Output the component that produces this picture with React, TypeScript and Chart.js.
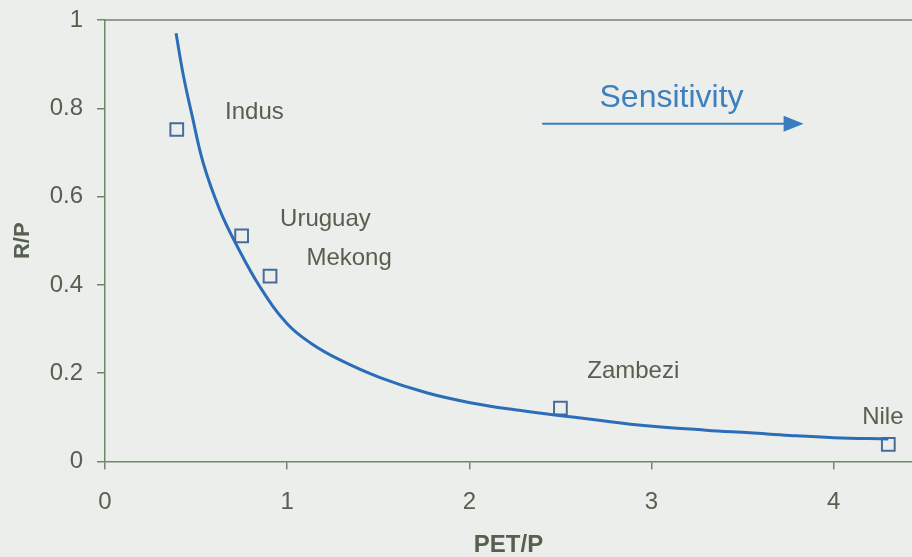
import React, { useEffect, useRef } from "react";
import { Chart, registerables } from "chart.js";

Chart.register(...registerables);

// Fitted curve R/P vs PET/P
const curveX = [0.39, 0.43, 0.48, 0.54, 0.63, 0.72, 0.85, 1.0, 1.13, 1.29, 1.51, 1.77, 2.02, 2.25, 2.48, 2.7, 2.9, 3.3, 3.54, 3.76, 4.0, 4.3];
const curveY = [0.97, 0.875, 0.78, 0.675, 0.57, 0.492, 0.396, 0.312, 0.268, 0.23, 0.19, 0.155, 0.132, 0.117, 0.105, 0.094, 0.084, 0.071, 0.065, 0.059, 0.054, 0.051];

// Basins
const basins = ["Indus", "Uruguay", "Mekong", "Zambezi", "Nile"];
const basinX = [0.394, 0.75, 0.906, 2.5, 4.3];
const basinY = [0.752, 0.511, 0.42, 0.121, 0.039];
const labelX = [0.82, 1.21, 1.34, 2.9, 4.27];
const labelY = [0.79, 0.548, 0.459, 0.205, 0.1];

// Axis ticks
const xTicks = [0, 1, 2, 3, 4];
const yTicks = [0, 0.2, 0.4, 0.6, 0.8, 1];

// Sensitivity annotation (data units)
const sensText = "Sensitivity";
const sensTextPos = [3.11, 0.822];
const sensArrow = [2.4, 3.835, 0.765];

const AXIS = "#6d876b";
const TEXT = "#55604f";
const FONT = "'Liberation Sans', Arial, sans-serif";

const annotations = {
  id: "annotations",
  afterDatasetsDraw(chart: any) {
    const { ctx, chartArea, scales } = chart;
    const xs = scales.x;
    const ys = scales.y;
    ctx.save();
    // top frame line
    ctx.strokeStyle = AXIS;
    ctx.lineWidth = 1.5;
    ctx.beginPath();
    ctx.moveTo(chartArea.left, chartArea.top);
    ctx.lineTo(chartArea.right, chartArea.top);
    ctx.stroke();
    // basin labels
    ctx.fillStyle = TEXT;
    ctx.font = `24px ${FONT}`;
    ctx.textAlign = "center";
    ctx.textBaseline = "middle";
    basins.forEach((name, i) => {
      ctx.fillText(name, xs.getPixelForValue(labelX[i]), ys.getPixelForValue(labelY[i]));
    });
    // sensitivity text and arrow
    ctx.fillStyle = "#3d80c0";
    ctx.font = `32px ${FONT}`;
    ctx.fillText(sensText, xs.getPixelForValue(sensTextPos[0]), ys.getPixelForValue(sensTextPos[1]));
    const x1 = xs.getPixelForValue(sensArrow[0]);
    const x2 = xs.getPixelForValue(sensArrow[1]);
    const ay = ys.getPixelForValue(sensArrow[2]);
    ctx.strokeStyle = "#3a7dbf";
    ctx.lineWidth = 2;
    ctx.beginPath();
    ctx.moveTo(x1, ay);
    ctx.lineTo(x2 - 16, ay);
    ctx.stroke();
    ctx.fillStyle = "#3a7dbf";
    ctx.beginPath();
    ctx.moveTo(x2, ay);
    ctx.lineTo(x2 - 20, ay - 8);
    ctx.lineTo(x2 - 20, ay + 8);
    ctx.closePath();
    ctx.fill();
    ctx.restore();
  },
};

export default function App() {
  const ref = useRef<HTMLCanvasElement | null>(null);
  useEffect(() => {
    if (!ref.current) return;
    const chart = new Chart(ref.current, {
      type: "scatter",
      data: {
        datasets: [
          {
            type: "line",
            data: curveX.map((x, i) => ({ x, y: curveY[i] })),
            borderColor: "#2c6db8",
            borderWidth: 3,
            pointRadius: 0,
            tension: 0.4,
            fill: false,
          } as any,
          {
            data: basinX.map((x, i) => ({ x, y: basinY[i] })),
            pointStyle: "rect",
            pointRadius: 9,
            borderColor: "#4a6a9c",
            borderWidth: 2,
            backgroundColor: "rgba(0,0,0,0)",
          },
        ],
      },
      options: {
        animation: false,
        responsive: false,
        devicePixelRatio: 1,
        layout: { padding: { top: 20, right: 0, left: 0, bottom: 0 } },
        plugins: { legend: { display: false }, tooltip: { enabled: false } },
        scales: {
          x: {
            type: "linear",
            min: 0,
            max: 4.43,
            afterBuildTicks: (s: any) => {
              s.ticks = xTicks.map((v) => ({ value: v }));
            },
            afterFit: (s: any) => {
              s.height = 95.5;
              s.paddingLeft = 0;
              s.paddingRight = 0;
            },
            grid: { drawOnChartArea: false, color: AXIS, tickLength: 8, lineWidth: 1.5 },
            border: { color: AXIS, width: 1.5 },
            ticks: { color: TEXT, font: { family: FONT, size: 24 }, padding: 18, maxRotation: 0 },
            title: { display: true, text: "PET/P", color: TEXT, font: { family: FONT, size: 24, weight: "bold", lineHeight: 1 }, padding: { bottom: 0, top: 0 } },
          },
          y: {
            type: "linear",
            min: 0,
            max: 1,
            afterBuildTicks: (s: any) => {
              s.ticks = yTicks.map((v) => ({ value: v }));
            },
            afterFit: (s: any) => {
              s.width = 105;
              s.paddingTop = 0;
              s.paddingBottom = 0;
            },
            grid: { drawOnChartArea: false, color: AXIS, tickLength: 8, lineWidth: 1.5 },
            border: { color: AXIS, width: 1.5 },
            ticks: { color: TEXT, font: { family: FONT, size: 24 }, padding: 14, callback: (v: any) => String(v) },
            title: { display: true, text: "R/P", color: TEXT, font: { family: FONT, size: 22, weight: "bold" }, padding: { top: 10, bottom: 0 } },
          },
        },
      },
      plugins: [annotations],
    });
    return () => chart.destroy();
  }, []);
  return (
    <div style={{ position: "fixed", left: 0, top: 0, width: 912, height: 557, overflow: "hidden", background: "#eceeeb" }}>
      <canvas ref={ref} width={923} height={557} style={{ display: "block" }} />
    </div>
  );
}
